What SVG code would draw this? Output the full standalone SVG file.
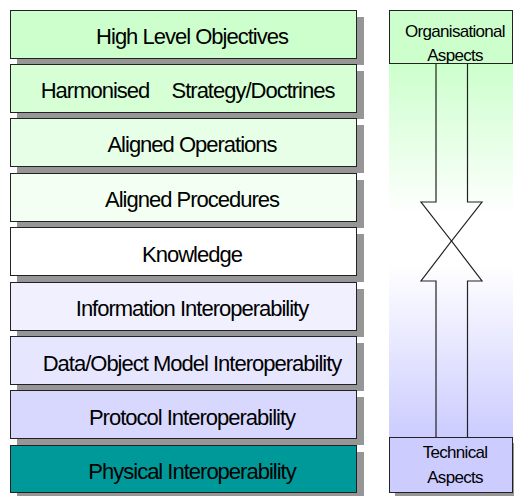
<svg xmlns="http://www.w3.org/2000/svg" width="514" height="496" viewBox="0 0 514 496">
<defs>
<linearGradient id="colbg" x1="0" y1="63" x2="0" y2="437" gradientUnits="userSpaceOnUse">
<stop offset="0" stop-color="#ccffcc"/>
<stop offset="0.41" stop-color="#ffffff"/>
<stop offset="0.54" stop-color="#ffffff"/>
<stop offset="1" stop-color="#ccccff"/>
</linearGradient>
<style>
.sh{fill:#969696;}
.box{stroke:#222;stroke-width:1;}
.lt{font-family:"Liberation Sans",Arial,sans-serif;font-size:22px;letter-spacing:-1px;text-anchor:middle;fill:#000;}
.rt{font-family:"Liberation Sans",Arial,sans-serif;font-size:17px;letter-spacing:-0.7px;text-anchor:middle;fill:#000;}
.arr{fill:none;stroke:#222;stroke-width:1.2;stroke-linejoin:miter;}
</style>
</defs>
<rect width="514" height="496" fill="#ffffff"/>

<g id="n1"><rect class="sh" x="17" y="17" width="347" height="48"/><rect class="box" x="10.5" y="10.5" width="346" height="48" fill="#ccffcc"/><text class="lt" x="192" y="44">High Level Objectives</text></g>
<g id="n2"><rect class="sh" x="17" y="71" width="347" height="48"/><rect class="box" x="10.5" y="64.5" width="346" height="48" fill="#d6ffd6"/><text class="lt" y="98"><tspan x="95">Harmonised</tspan><tspan x="253">Strategy/Doctrines</tspan></text></g>
<g id="n3"><rect class="sh" x="17" y="125" width="347" height="48"/><rect class="box" x="10.5" y="118.5" width="346" height="48" fill="#e6ffe6"/><text class="lt" x="192" y="152">Aligned Operations</text></g>
<g id="n4"><rect class="sh" x="17" y="180" width="347" height="48"/><rect class="box" x="10.5" y="173.5" width="346" height="48" fill="#f2fff2"/><text class="lt" x="192" y="207">Aligned Procedures</text></g>
<g id="n5"><rect class="sh" x="17" y="234" width="347" height="48"/><rect class="box" x="10.5" y="227.5" width="346" height="48" fill="#ffffff"/><text class="lt" x="192" y="262">Knowledge</text></g>
<g id="n6"><rect class="sh" x="17" y="289" width="347" height="48"/><rect class="box" x="10.5" y="282.5" width="346" height="48" fill="#f0f0ff"/><text class="lt" x="192" y="316">Information Interoperability</text></g>
<g id="n7"><rect class="sh" x="17" y="343" width="347" height="48"/><rect class="box" x="10.5" y="336.5" width="346" height="48" fill="#e6e6ff"/><text class="lt" x="192" y="371">Data/Object Model Interoperability</text></g>
<g id="n8"><rect class="sh" x="17" y="397" width="347" height="48"/><rect class="box" x="10.5" y="390.5" width="346" height="48" fill="#d8d8ff"/><text class="lt" x="192" y="425">Protocol Interoperability</text></g>
<g id="n9"><rect class="sh" x="17" y="452" width="347" height="48"/><rect class="box" x="10.5" y="445.5" width="346" height="47" fill="#009999"/><text class="lt" x="192" y="479">Physical Interoperability</text></g>

<rect x="389" y="63" width="124" height="374" fill="url(#colbg)"/>

<g id="connectors">
<path class="arr" d="M436,63 V202 H421 L451.5,241 L482,202 H467.5 V63"/>
<path class="arr" d="M436,437 V281 H421 L451.5,241 L482,281 H467.5 V437"/>
</g>

<g id="org"><rect class="box" x="389.5" y="10.5" width="123" height="53" fill="#ccffcc"/><text class="rt" x="455" y="37">Organisational</text><text class="rt" x="455" y="61">Aspects</text></g>
<g id="tech"><rect class="sh" x="395" y="443" width="124" height="56"/><rect class="box" x="389.5" y="437.5" width="123" height="55" fill="#ccccff"/><text class="rt" x="455" y="458">Technical</text><text class="rt" x="455" y="483">Aspects</text></g>
</svg>
